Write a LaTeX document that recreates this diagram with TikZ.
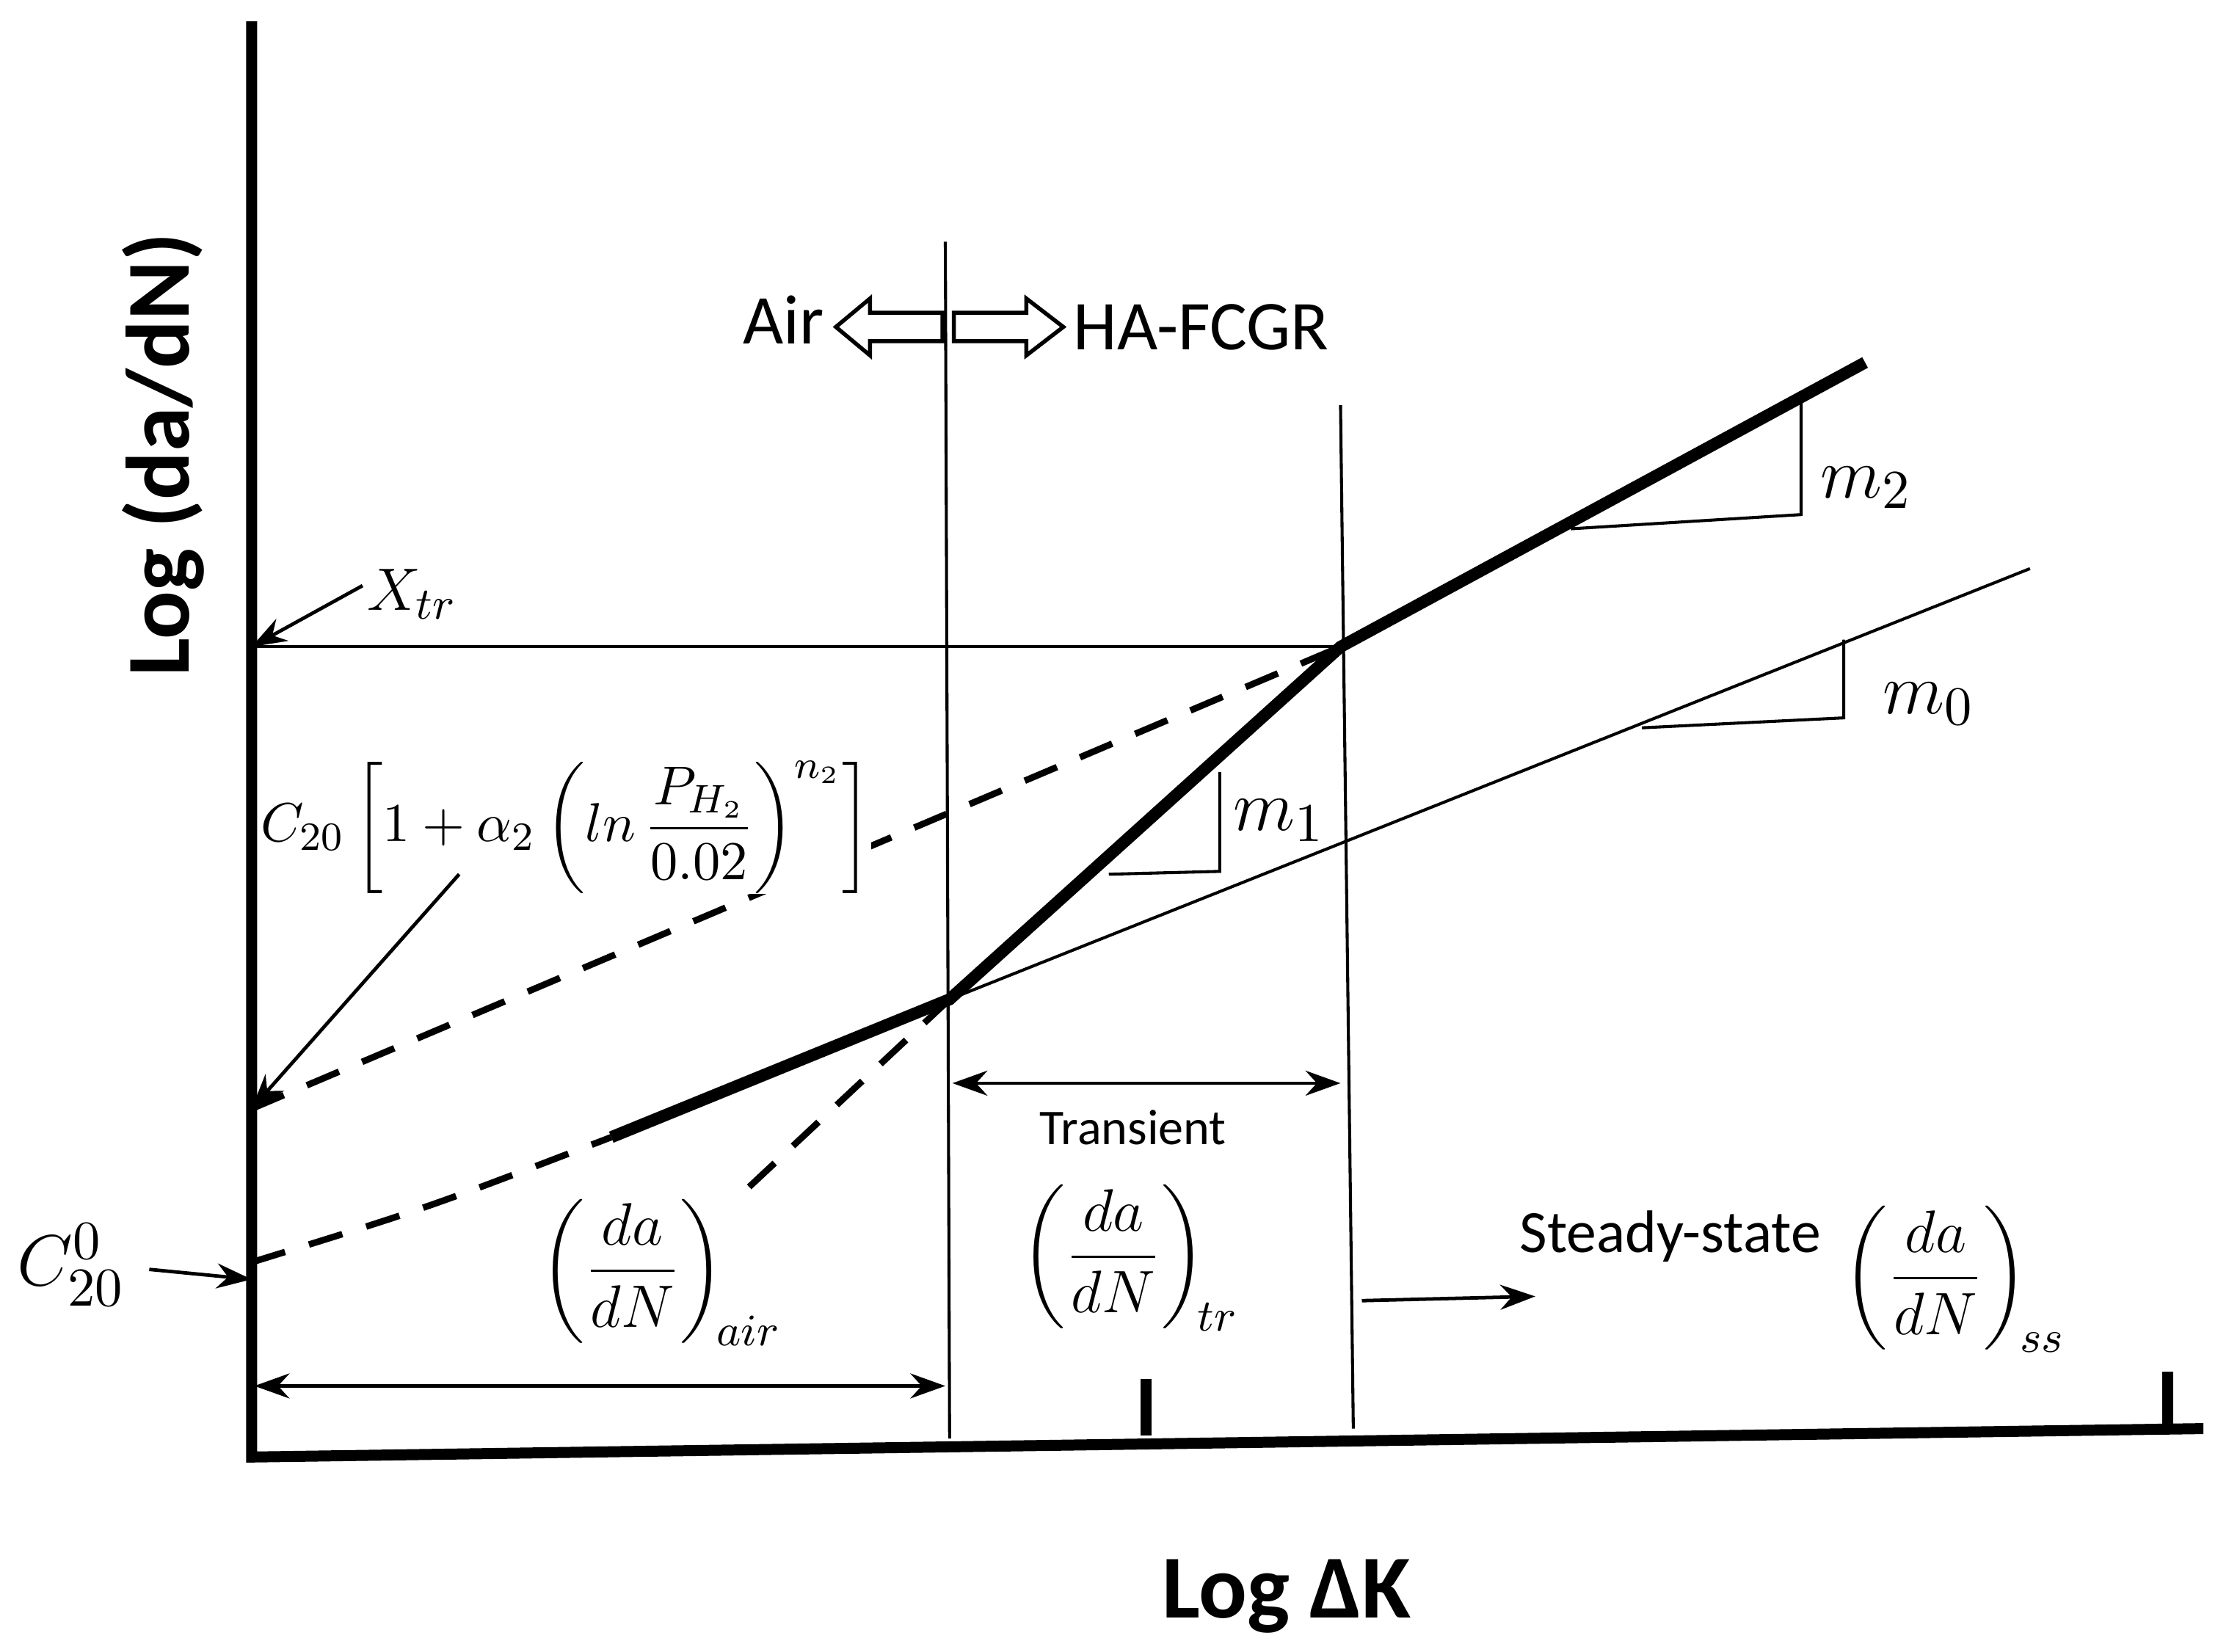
\documentclass[tikz,border=0pt]{standalone}
\usepackage{amsmath}
\usepackage{fontspec}
\setmainfont{Carlito}
\usetikzlibrary{arrows.meta}
\begin{document}
\begin{tikzpicture}[x=0.01cm,y=-0.01cm,
 thinl/.style={line width=0.6pt},
 thickl/.style={line width=2.4pt},
 axis/.style={line width=2.2pt},
 dashl/.style={line width=1.3pt,dash pattern=on 7pt off 5pt},
 arr/.style={line width=0.7pt,-{Stealth[length=7pt,width=5pt]}},
 darr/.style={line width=0.7pt,{Stealth[length=7pt,width=5pt]}-{Stealth[length=7pt,width=5pt]}},
 lbl/.style={font=\fontsize{13}{16}\selectfont},
 mlbl/.style={font=\fontsize{15}{18}\selectfont}]
\useasboundingbox (0,0) rectangle (1568,1162);
% coordinates
\coordinate (O) at (177,1025);
\coordinate (Ytop) at (177,15);
\coordinate (Xend) at (1550,1005);
\coordinate (P0) at (430,800);
\coordinate (P1) at (668,703);
\coordinate (P2) at (943,455);
\coordinate (P3) at (1312,255);
\coordinate (M0) at (1428,400);
\coordinate (Yx) at (177,455);
\coordinate (Yc) at (177,780);
\coordinate (Yc0) at (177,888);
% axes
\draw[axis] (Ytop) -- (O) -- (Xend);
\draw[axis] (806,970) coordinate (t1) -- (806,1010) coordinate (t1b);
\draw[axis] (1525,965) coordinate (t2) -- (1525,1004) coordinate (t2b);
% verticals
\draw[thinl] (665,170) coordinate (v1) -- (668,1012) coordinate (v1b);
\draw[thinl] (943,285) coordinate (v2) -- (952,1005) coordinate (v2b);
\draw[thinl] (Yx) -- (P2);
% curves
\draw[thickl] (P0) -- (P1) -- (P2) -- (P3);
\draw[thinl] (P1) -- (M0);
\draw[dashl] (Yc) -- (P2);
\draw[dashl] (Yc0) .. controls (300,850) .. (P0);
\draw[dashl] (527,835) coordinate (d1) -- (P1);
% slope triangles
\draw[thinl] (1105,372) -- (1267,362) -- (1267,283);
\draw[thinl] (1155,512) -- (1297,505) -- (1297,450);
\draw[thinl] (780,615) -- (858,613) -- (858,543);
\node[mlbl] (m2) at (1313,343) {$m_2$};
\node[mlbl] (m0) at (1357,495) {$m_0$};
\node[mlbl] (m1) at (900,577) {$m_1$};
% labels with arrows
\node[lbl] (xtr) at (290,418) {$X_{tr}$};
\draw[arr] (255,412) -- (Yx);
\node[font=\fontsize{11}{13}\selectfont,inner sep=0pt,fill=white] (form) at (398,582) {$C_{20}\left[1+\alpha_2\left(ln\,\dfrac{P_{H_2}}{0.02}\right)^{n_2}\right]$};
\draw[arr] (323,615) -- (Yc);
\node[mlbl] (c20) at (50,890) {$C_{20}^{0}$};
\draw[arr] (105,893) -- (177,900);
% Air / HA-FCGR
\node[font=\fontsize{14}{17}\selectfont] (air) at (551,225) {Air};
\node[font=\fontsize{14}{17}\selectfont] (ha) at (845,230) {HA-FCGR};
\draw[line width=0.8pt] (663,220) -- (612,220) -- (612,210) -- (588,230) -- (612,250) -- (612,240) -- (663,240) -- cycle;
\draw[line width=0.8pt] (671,220) -- (722,220) -- (722,210) -- (748,230) -- (722,250) -- (722,240) -- (671,240) -- cycle;
% dimension arrows
\draw[darr] (179,975) coordinate (a1) -- (665,975) coordinate (a2);
\draw[darr] (670,762) coordinate (b1) -- (943,762) coordinate (b2);
\node[font=\fontsize{10}{12}\selectfont] (tr) at (797,793) {Transient};
\node[lbl] (fair) at (465,895) {$\left(\dfrac{da}{dN}\right)_{\!air}$};
\node[lbl] (ftr) at (795,885) {$\left(\dfrac{da}{dN}\right)_{\!tr}$};
\node[lbl] (fss) at (1375,900) {$\left(\dfrac{da}{dN}\right)_{\!ss}$};
\node[font=\fontsize{12}{14}\selectfont] (ss) at (1175,870) {Steady-state};
\draw[arr] (958,915) -- (1080,912);
% axis titles
\node[font=\fontsize{18}{21}\selectfont\bfseries,rotate=90] (ylab) at (115,320) {Log (da/dN)};
\node[font=\fontsize{18}{21}\selectfont\bfseries] (xlab) at (905,1123) {Log ΔK};
\end{tikzpicture}
\end{document}
